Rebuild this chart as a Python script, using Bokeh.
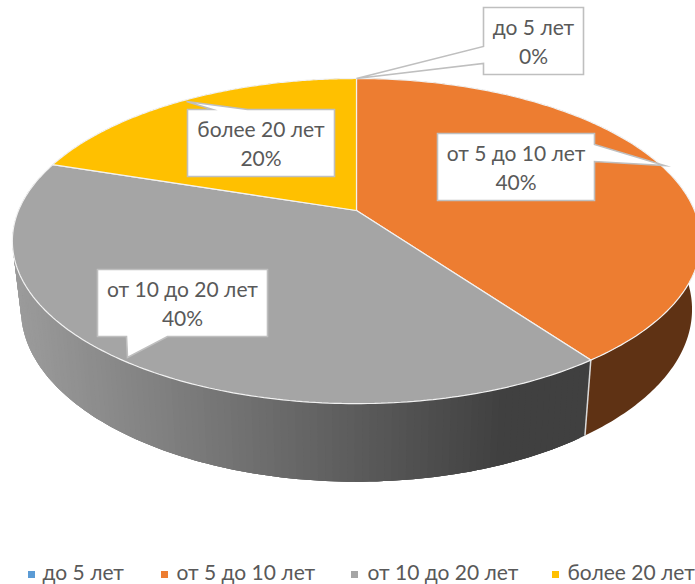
import numpy as np
from bokeh.plotting import figure
from bokeh.embed import file_html
from bokeh.resources import INLINE
from bokeh.core.properties import value
from bokeh.models import Range1d

# ---- data
categories = ["до 5 лет", "от 5 до 10 лет", "от 10 до 20 лет", "более 20 лет"]
shares = [0, 40, 40, 20]
labels = ["0%", "40%", "40%", "20%"]
colors = ["#5B9BD5", "#ED7D31", "#A5A5A5", "#FFC000"]
side_dark = ["#2E4D6B", "#5F3214", None, "#7F6000"]

FONT = "Lato"
FS = "21px"
TXT = "#595959"
W, H = 695, 584

p = figure(width=W, height=H, output_backend="svg", toolbar_location=None,
           x_range=Range1d(0, W), y_range=Range1d(H, 0),
           min_border=0, outline_line_color=None, background_fill_color="white",
           border_fill_color="white")
p.axis.visible = False
p.grid.visible = False

# perspective projection of a round pie
CX, CY, A, BK, K = 356, 210, 338, 156.8, 0.188
BCY, SX, SY = 276.5, 0.975, 1.06


def top(t):
    w = 1 + K * np.cos(t)
    return CX + A * np.sin(t) / w, CY - BK * np.cos(t) / w


def base(t):
    x, y = top(t)
    return CX + (x - CX) * SX, BCY + (y - CY) * SY


def lerp(c0, c1, f):
    return "#%02x%02x%02x" % tuple(int(round(a + (b - a) * f)) for a, b in zip(c0, c1))


# slice angle limits from the shares
edges = np.radians(np.cumsum([0] + shares) / sum(shares) * 360)

# side wall
for i, cat in enumerate(categories):
    t0, t1 = edges[i], edges[i + 1]
    if t1 <= t0:
        continue
    if side_dark[i]:
        ts = np.linspace(t0, t1, 200)
        xa, ya = top(ts); xb, yb = base(ts)
        p.patch([*xa, *xb[::-1]], [*ya, *yb[::-1]], fill_color=side_dark[i], line_color=None)
    else:
        # painted from the far end so that each strip overlaps its neighbour
        ts = np.linspace(t0, t1, 140)
        for a, b in zip(ts[:-1], ts[1:]):
            c = min(b + (ts[1] - ts[0]) * 2, t1)
            seg = np.linspace(a, c, 4)
            xa, ya = top(seg); xb, yb = base(seg)
            xm = float(top(np.array((a + b) / 2))[0]) * SX + CX * (1 - SX)
            f = np.clip((xm - 18) / (500 - 18), 0, 1)
            col = lerp((0x9c, 0x9c, 0x9c), (0x40, 0x40, 0x40), f)
            p.patch([*xa, *xb[::-1]], [*ya, *yb[::-1]], fill_color=col, line_color=None)

# seam between orange and gray side
tb = edges[2]
xt, yt = top(tb); xb_, yb_ = base(tb)
p.line([xt, xb_], [yt, yb_], line_color="#d9d9d9", line_width=1.5)

# top faces
for i, cat in enumerate(categories):
    t0, t1 = edges[i], edges[i + 1]
    if t1 <= t0:
        continue
    ts = np.linspace(t0, t1, 160)
    xs, ys = top(ts)
    p.patch([CX, *xs], [CY, *ys], fill_color=colors[i], line_color="#f2f2f2", line_width=1.2)

# callouts: box (l, r, t, b) and wedge base; the tip sits on the rim / face
boxes = [
    (483, 583, 7, 74),
    (437, 594, 133, 200),
    (97, 267, 269, 336),
    (187, 334, 109, 176),
]
wedges = [
    ("L", 46, 63, 356, 78),
    ("R", 144, 161, 664, 165),
    ("B", 126, 167, 127, 357),
    ("T", 212, 247, 186, 101),
]
for i, ((l, r, t, b), (side, u, v, tx, ty)) in enumerate(zip(boxes, wedges)):
    if side == "L":
        xs = [l, l, tx, l, l, r, r]; ys = [t, u, ty, v, b, b, t]
    elif side == "R":
        xs = [l, r, r, tx, r, r, l]; ys = [t, t, u, ty, v, b, b]
    elif side == "B":
        xs = [l, r, r, v, tx, u, l]; ys = [t, t, b, b, ty, b, b]
    else:
        xs = [l, u, tx, v, r, r, l]; ys = [t, t, ty, t, t, b, b]
    p.patch(xs, ys, fill_color="white", line_color="#bfbfbf", line_width=1.6, line_join="miter")
    cx, cy = (l + r) / 2, (t + b) / 2
    p.text([cx], [cy - 14.5], text=[categories[i]], text_font=value(FONT), text_font_size=FS,
           text_color=TXT, text_align="center", text_baseline="middle")
    p.text([cx], [cy + 14.5], text=[labels[i]], text_font=value(FONT), text_font_size=FS,
           text_color=TXT, text_align="center", text_baseline="middle")

# legend
leg_mark_x = [31, 164, 354, 555]
leg_text_x = [42, 176, 367, 567]
for mx, tx_, c, cat in zip(leg_mark_x, leg_text_x, colors, categories):
    p.scatter([mx], [574], marker="square", size=7, fill_color=c, line_color=None)
    p.text([tx_], [571], text=[cat], text_font=value(FONT), text_font_size=FS,
           text_color=TXT, text_align="left", text_baseline="middle")

open("out.html", "w").write(file_html(p, INLINE))
